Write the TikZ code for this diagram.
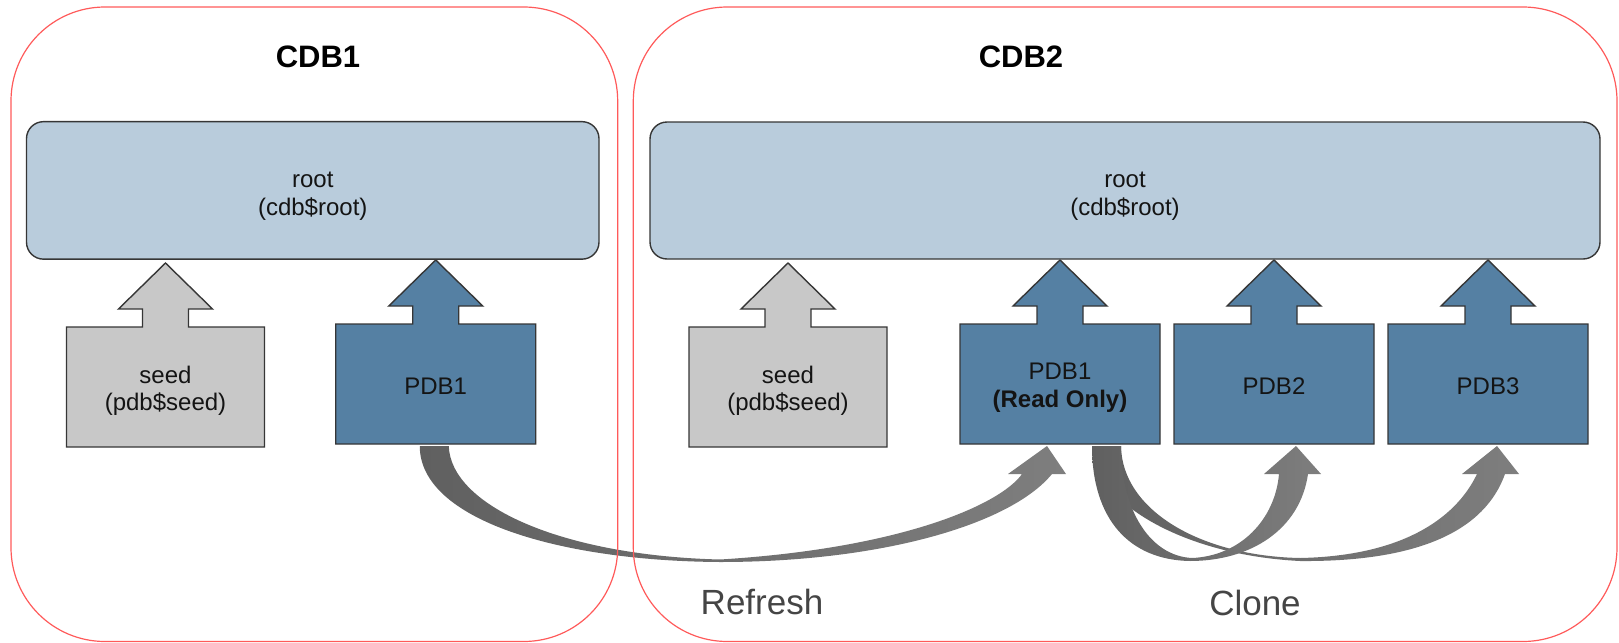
\documentclass[tikz,border=0pt]{standalone}
\usepackage{fontspec}
\setmainfont{Liberation Sans}
\usetikzlibrary{calc}
\pgfdeclarelayer{bg}
\pgfsetlayers{bg,main}

\definecolor{rootfill}{HTML}{B9CCDC}
\definecolor{pdbfill}{HTML}{5580A3}
\definecolor{seedfill}{HTML}{C8C8C8}
\definecolor{edge}{HTML}{363636}
\definecolor{cdbred}{HTML}{FF5A5A}
\definecolor{flowdark}{HTML}{606060}
\definecolor{flowlight}{HTML}{7E7E7E}
\definecolor{caption}{HTML}{454545}

% invisible strut that sets the height of a label's first line
\newcommand\topgap[1]{\rule{0pt}{#1}}

% a box with a broad upward arrow on top, outlined as one polygon
\newcommand\drawstack[2]{%
  \begin{pgfonlayer}{bg}
    \draw[#2] (#1.south west) -- (#1.north west)
      -- ($(#1.north)+(-23,0)$) -- ($(#1.north)+(-23,-18)$)
      -- ($(#1.north)+(-47,-18)$) -- ($(#1.north)+(0,-64)$)
      -- ($(#1.north)+(47,-18)$) -- ($(#1.north)+(23,-18)$)
      -- ($(#1.north)+(23,0)$) -- (#1.north east) -- (#1.south east) -- cycle;
  \end{pgfonlayer}}

\tikzset{
  lbl/.style={font=\fontsize{12}{13.8}\selectfont, align=center, text=black!92},
  title/.style={font=\fontsize{15.5}{18}\selectfont\bfseries, text=black},
  rootbox/.style={lbl, draw=edge, fill=rootfill, line width=0.7pt,
    rounded corners=8.5pt, inner sep=0pt, outer sep=0pt},
  stackbox/.style={lbl, inner sep=0pt, outer sep=0pt,
    minimum width=100pt, minimum height=60pt},
  seedshape/.style={draw=edge, fill=seedfill, line width=0.7pt},
  pdbshape/.style={draw=edge, fill=pdbfill, line width=0.7pt},
  flow/.style={left color=flowdark, right color=flowlight},
  caption/.style={font=\fontsize{17.5}{20}\selectfont, text=caption},
  cdb/.style={draw=cdbred, line width=0.6pt, rounded corners=47pt,
    inner sep=0pt, outer sep=0pt, minimum height=317.25pt},
}

\begin{document}
\begin{tikzpicture}[x=0.5pt,y=-0.5pt]
\useasboundingbox (0,0) rectangle (1619,643);

% container titles
\node[title] (t1) at (318,57) {CDB1};
\node[title] (t2) at (1021,57) {CDB2};

% root containers
\node[rootbox, minimum width=286.25pt, minimum height=68.75pt] (root1)
  at (312.75,190.4) {\topgap{13.6pt}root\\(cdb\$root)};
\node[rootbox, minimum width=475pt, minimum height=68.5pt] (root2)
  at (1125,190.5) {\topgap{13.6pt}root\\(cdb\$root)};

% seeds and pluggable databases
\node[stackbox, minimum width=99pt] (seedA) at (165.5,387)
  {\topgap{12.4pt}seed\\(pdb\$seed)};
\drawstack{seedA}{seedshape}
\node[stackbox] (pdbA) at (435.75,384) {\topgap{10.6pt}PDB1};
\drawstack{pdbA}{pdbshape}
\node[stackbox, minimum width=99pt] (seedB) at (788,387)
  {\topgap{12.4pt}seed\\(pdb\$seed)};
\drawstack{seedB}{seedshape}
\node[stackbox] (pdbRO) at (1060,384)
  {\topgap{11.8pt}PDB1\\\textbf{(Read Only)}};
\drawstack{pdbRO}{pdbshape}
\node[stackbox] (pdbB) at (1274,384) {\topgap{10.6pt}PDB2};
\drawstack{pdbB}{pdbshape}
\node[stackbox] (pdbC) at (1488,384) {\topgap{10.6pt}PDB3};
\drawstack{pdbC}{pdbshape}

% end points of the curved flows
\coordinate (rS1) at ($(pdbA.south)+(-16,2)$);
\coordinate (rS2) at ($(pdbA.south)+(13,2)$);
\coordinate (rT)  at ($(pdbRO.south)+(-13,2)$);
\coordinate (cS1) at ($(pdbRO.south)+(32,2)$);
\coordinate (cS2) at ($(pdbRO.south)+(61,2)$);
\coordinate (c2T) at ($(pdbB.south)+(22,2)$);
\coordinate (c3T) at ($(pdbC.south)+(9,2)$);

% refresh: PDB1 -> PDB1 (Read Only)
\shade[flow] (rS1) .. controls +(0,74) and +(-160,-1) .. (720,562)
  .. controls +(160,0) and +(-42,51) .. ($(rT)+(5,28)$)
  -- ($(rT)+(19,28)$) -- (rT) -- ($(rT)+(-39,28)$) -- ($(rT)+(-25,28)$)
  .. controls +(-22,31) and +(180,-11) .. (720,559.5)
  .. controls +(-160,-4) and +(2,59) .. (rS2) -- cycle;

% clone: PDB1 (Read Only) -> PDB3
\shade[flow] (cS1) .. controls +(0,54) and +(-120,-6) .. (1300,561)
  .. controls +(120,1) and +(-20,56) .. ($(c3T)+(8,28)$)
  -- ($(c3T)+(22,28)$) -- (c3T) -- ($(c3T)+(-35,28)$) -- ($(c3T)+(-20,28)$)
  .. controls +(-22,46) and +(100,-2) .. (1300,558)
  .. controls +(-100,-2) and +(1,64) .. (cS2) -- cycle;

% clone: PDB1 (Read Only) -> PDB2
\shade[flow] (cS1) .. controls +(0,74) and +(-60,-1) .. (1190,561)
  .. controls +(60,0) and +(-8,56) .. ($(c2T)+(12,28)$)
  -- ($(c2T)+(25,28)$) -- (c2T) -- ($(c2T)+(-32,28)$) -- ($(c2T)+(-17,28)$)
  .. controls +(-4,46) and +(48,-2) .. (1192,558)
  .. controls +(-42,-2) and +(0,64) .. (cS2) -- cycle;

% flow captions
\node[caption] (lblR) at (762,602) {Refresh};
\node[caption] (lblC) at (1255,603) {Clone};

% container outlines
\node[cdb, minimum width=303.35pt] (cdb1) at (314.35,324.25) {};
\node[cdb, minimum width=491.85pt] (cdb2) at (1125.15,324.25) {};
\end{tikzpicture}
\end{document}
